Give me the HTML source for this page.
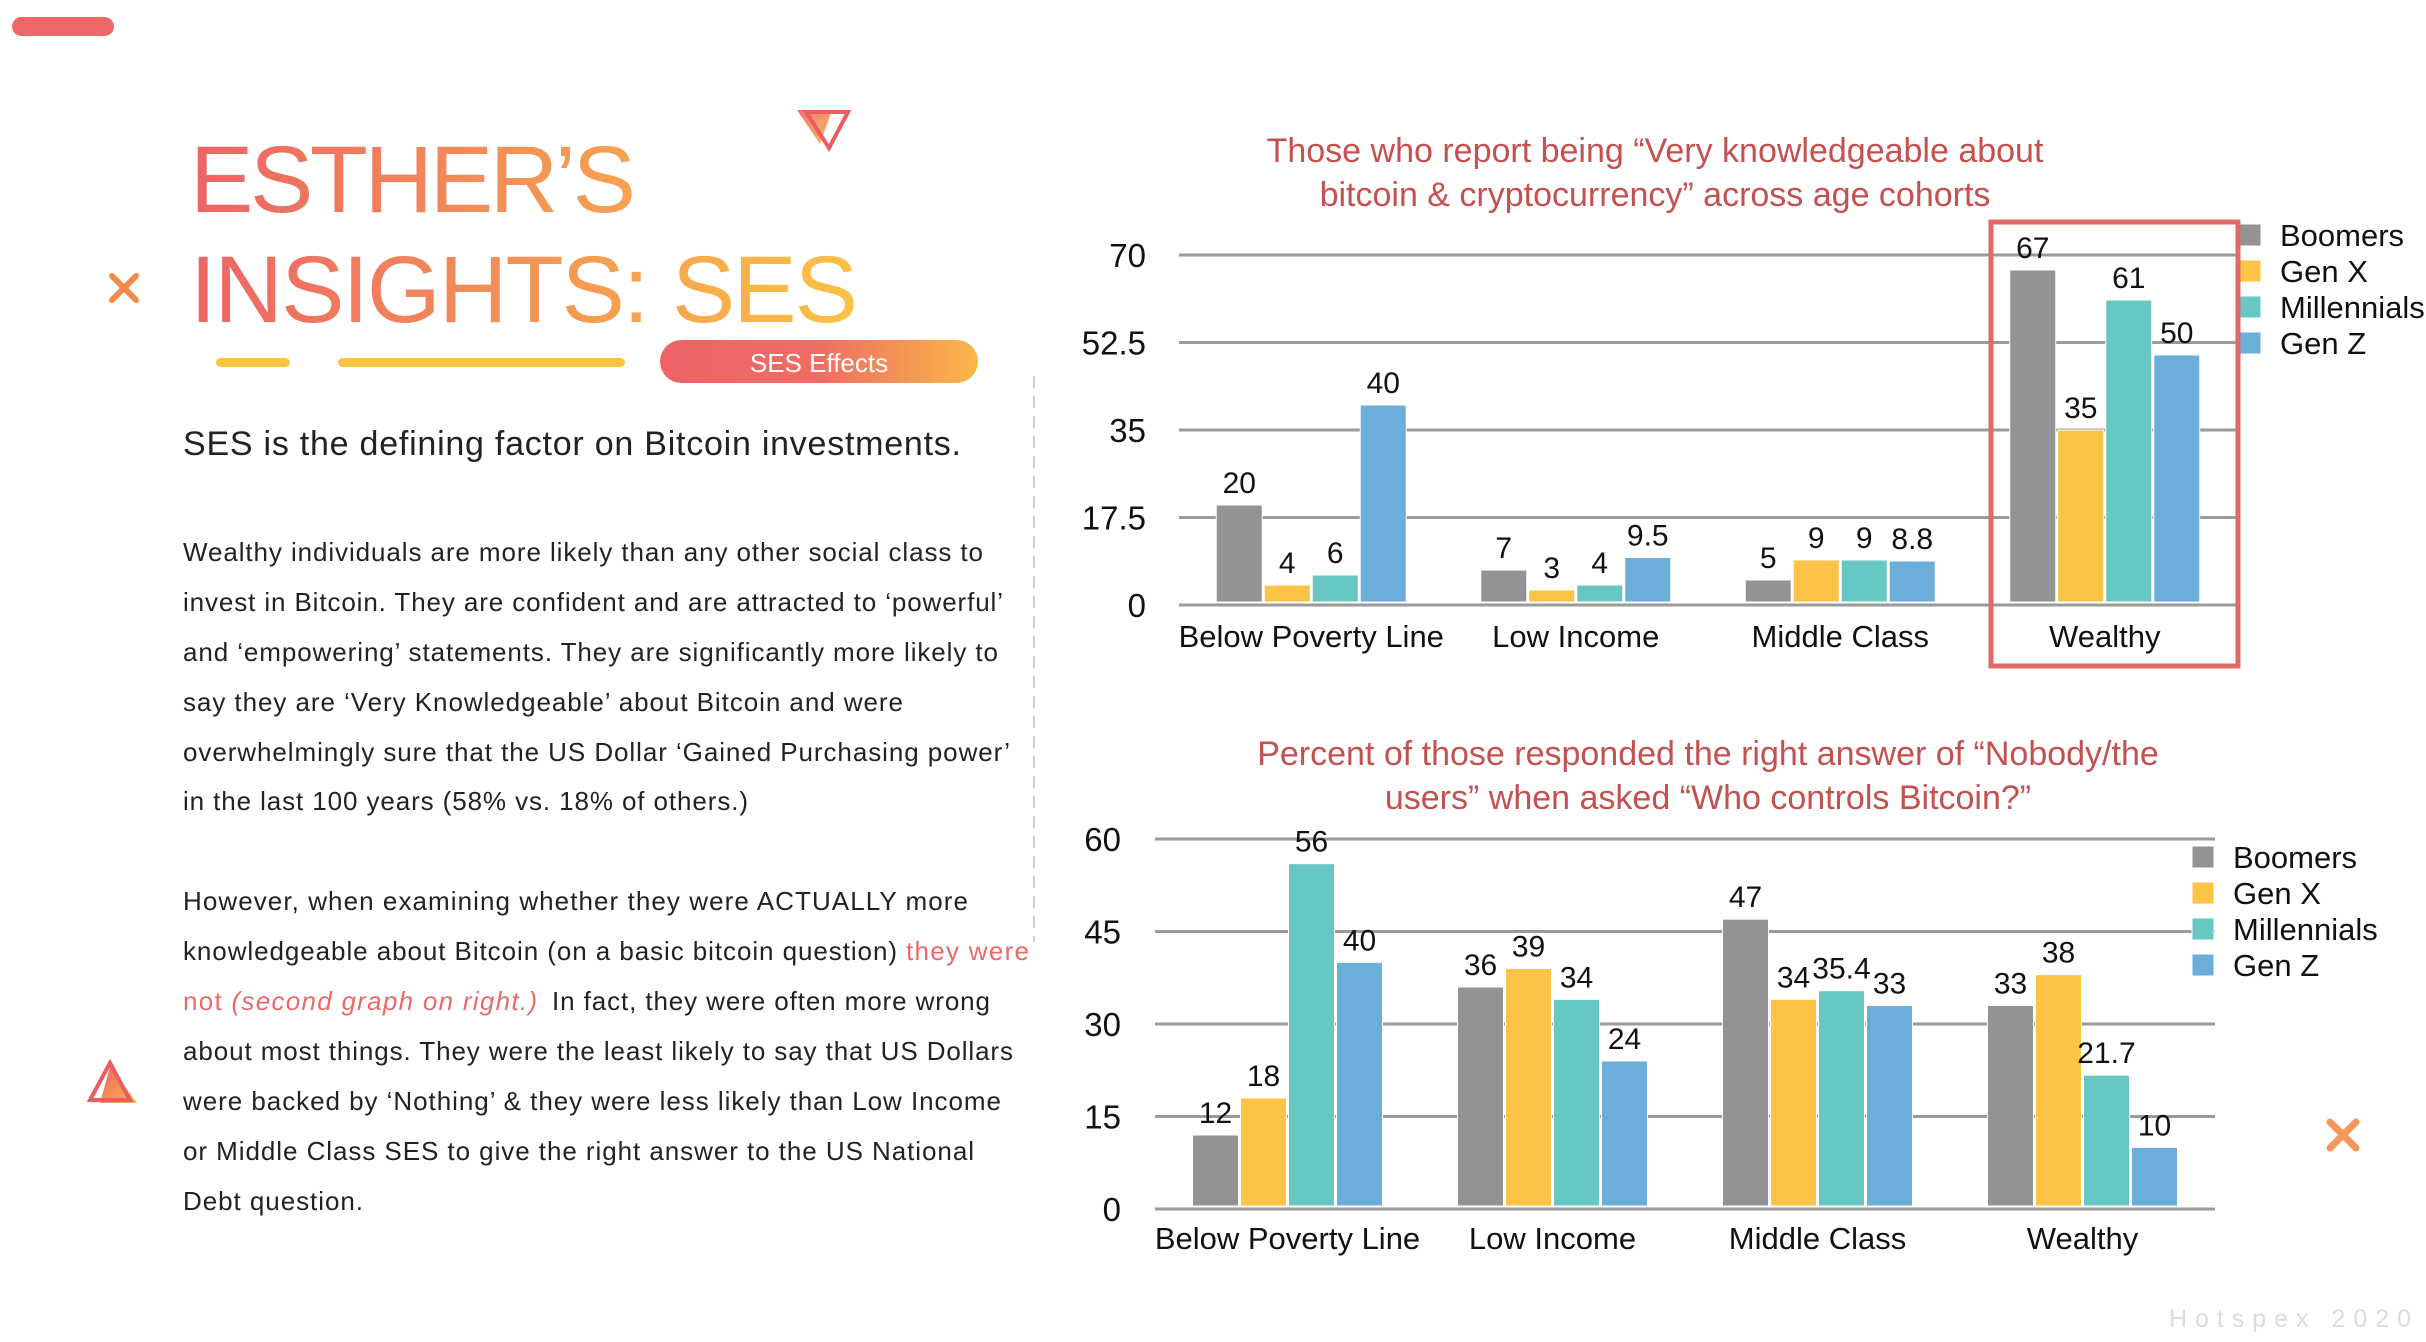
<!DOCTYPE html>
<html><head><meta charset="utf-8"><style>
html,body{margin:0;padding:0;background:#fff;}
svg{display:block;font-family:"Liberation Sans",Arial,sans-serif;}
</style></head><body>
<svg id="page" width="2426" height="1342" viewBox="0 0 2426 1342" xmlns="http://www.w3.org/2000/svg">
<defs>
<linearGradient id="tg" x1="190" y1="0" x2="860" y2="0" gradientUnits="userSpaceOnUse">
<stop offset="0" stop-color="#ec6466"/><stop offset="1" stop-color="#fcc245"/></linearGradient>
<linearGradient id="pg" x1="0" y1="0" x2="1" y2="0">
<stop offset="0" stop-color="#ec6466"/><stop offset="0.5" stop-color="#ee6d64"/><stop offset="1" stop-color="#fbb848"/></linearGradient>
<linearGradient id="trg" x1="0" y1="0" x2="1" y2="1">
<stop offset="0" stop-color="#ec6466"/><stop offset="1" stop-color="#fbb848"/></linearGradient>
</defs>
<rect x="12" y="17" width="102" height="19" rx="9.5" fill="#ee6668"/>
<g>
<polygon points="797,110 832,110 820,144" fill="url(#trg)" opacity="0.9"/>
<polygon points="806,112 848,112 829,148" fill="none" stroke="#ec5c60" stroke-width="4"/>
</g>
<g stroke="#f28a4c" stroke-width="6" stroke-linecap="round">
<line x1="112" y1="276" x2="136" y2="300"/><line x1="136" y1="276" x2="112" y2="300"/></g>
<text x="190" y="212" font-size="95" fill="url(#tg)" textLength="446">ESTHER’S</text>
<text x="190" y="322" font-size="95" fill="url(#tg)" textLength="668">INSIGHTS: SES</text>
<rect x="216" y="358" width="74" height="9" rx="4.5" fill="#fcc443"/>
<rect x="338" y="358" width="287" height="9" rx="4.5" fill="#fcc443"/>
<g>
<rect x="660" y="340" width="318" height="43" rx="21.5" fill="url(#pg)"/>
<text x="819" y="372" font-size="26" fill="#fff" text-anchor="middle">SES Effects</text></g>
<text x="183" y="455" font-size="34" fill="#222" textLength="778">SES is the defining factor on Bitcoin investments.</text>
<g font-size="26" fill="#222">
<text x="183" y="561" textLength="800">Wealthy individuals are more likely than any other social class to</text>
<text x="183" y="611" textLength="820">invest in Bitcoin. They are confident and are attracted to ‘powerful’</text>
<text x="183" y="661" textLength="815">and ‘empowering’ statements. They are significantly more likely to</text>
<text x="183" y="711" textLength="720">say they are ‘Very Knowledgeable’ about Bitcoin and were</text>
<text x="183" y="761" textLength="827">overwhelmingly sure that the US Dollar ‘Gained Purchasing power’</text>
<text x="183" y="810" textLength="565">in the last 100 years (58% vs. 18% of others.)</text>
</g>
<g font-size="26" fill="#222">
<text x="183" y="910" textLength="785">However, when examining whether they were ACTUALLY more</text>
<text x="183" y="960" textLength="714">knowledgeable about Bitcoin (on a basic bitcoin question)</text>
<text x="906" y="960" fill="#e96a6a" textLength="123">they were</text>
<text x="183" y="1010" fill="#e96a6a" textLength="354">not <tspan font-style="italic">(second graph on right.)</tspan></text>
<text x="552" y="1010" textLength="438">In fact, they were often more wrong</text>
<text x="183" y="1060" textLength="830">about most things. They were the least likely to say that US Dollars</text>
<text x="183" y="1110" textLength="818">were backed by ‘Nothing’ &amp; they were less likely than Low Income</text>
<text x="183" y="1160" textLength="791">or Middle Class SES to give the right answer to the US National</text>
<text x="183" y="1210" textLength="180">Debt question.</text>
</g>
<line x1="1034" y1="376" x2="1034" y2="942" stroke="#cfcfcf" stroke-width="2" stroke-dasharray="12,8"/>
<g>
<polygon points="110,1067 137,1103 100,1103" fill="url(#trg)"/>
<polygon points="110,1063 130,1100 90,1100" fill="none" stroke="#ec5c60" stroke-width="4"/>
</g>
<g stroke="#f5965a" stroke-width="7" stroke-linecap="round">
<line x1="2330" y1="1122" x2="2356" y2="1148"/><line x1="2356" y1="1122" x2="2330" y2="1148"/></g>
<text x="2169" y="1327" font-size="25" fill="#dcdcdc" textLength="242" lengthAdjust="spacing">Hotspex 2020</text>
<g id="chart1"></g>
<g id="chart2"></g>
</svg>
<script>
const categories = ["Below Poverty Line", "Low Income", "Middle Class", "Wealthy"];
const seriesNames = ["Boomers", "Gen X", "Millennials", "Gen Z"];
const c1Boomers = [20, 7, 5, 67];
const c1GenX = [4, 3, 9, 35];
const c1Millennials = [6, 4, 9, 61];
const c1GenZ = [40, 9.5, 8.8, 50];
const c1Ticks = [0, 17.5, 35, 52.5, 70];
const c1Max = 70;
const c2Boomers = [12, 36, 47, 33];
const c2GenX = [18, 39, 34, 38];
const c2Millennials = [56, 34, 35.4, 21.7];
const c2GenZ = [40, 24, 33, 10];
const c2Ticks = [0, 15, 30, 45, 60];
const c2Max = 60;
const colors = ["#939393", "#fdc344", "#67c8c3", "#6aaed9"];
const NS = "http://www.w3.org/2000/svg";
function mk(parent, tag, attrs, txt) {
  const e = document.createElementNS(NS, tag);
  for (const k in attrs) e.setAttribute(k, attrs[k]);
  if (txt !== undefined) e.textContent = txt;
  parent.appendChild(e);
  return e;
}
function drawChart(g, cfg, series, ticks, maxV, key) {
  const yScale = v => cfg.y0 - v / maxV * (cfg.y0 - cfg.yTop);
  const band = (cfg.x1 - cfg.x0) / categories.length;
  const bw = 46, step = 48;
  ticks.forEach(t => {
    const y = yScale(t);
    const ln = mk(g, "line", {x1: cfg.x0, x2: cfg.x1, y1: y, y2: y, stroke: "#9a9a9a", "stroke-width": 3});
    
    
    const tl = mk(g, "text", {x: cfg.tickX, y: y + 12, "font-size": 33, "text-anchor": "end", fill: "#111"}, String(t));
    
    
  });
  categories.forEach((c, i) => {
    const cx = cfg.x0 + band * (i + 0.5);
    const gx = cx - (step * 4 - 2) / 2;
    series.forEach((s, j) => {
      const v = s[i];
      const x = gx + j * step;
      const y = yScale(v);
      const r = mk(g, "rect", {x: x, y: y, width: bw, height: cfg.y0 - 3 - y, fill: colors[j], stroke: "#ffffff", "stroke-width": 1});
      
      
      const vl = mk(g, "text", {x: x + bw / 2, y: y - 12, "font-size": 30, "text-anchor": "middle", fill: "#111"}, String(v));
      
      
    });
    const cl = mk(g, "text", {x: cx, y: cfg.catY, "font-size": 31, "text-anchor": "middle", fill: "#111"}, c);
    
    
  });
  seriesNames.forEach((n, j) => {
    const y = cfg.legY + j * 36;
    const sw = mk(g, "rect", {x: cfg.legX, y: y - 11, width: 22, height: 22, fill: colors[j], stroke: "#fff", "stroke-width": 1});
    
    
    const lt = mk(g, "text", {x: cfg.legX + 41, y: y + 11, "font-size": 31, fill: "#111"}, n);
    
    
  });
  cfg.title.forEach((t, k) => {
    const tt = mk(g, "text", {x: cfg.titleX, y: cfg.titleY + k * 44, "font-size": 34, "text-anchor": "middle", fill: "#c4504f"}, t);
    
    
  });
}
const g1 = document.getElementById("chart1");
drawChart(g1, {x0: 1179, x1: 2237, y0: 605, yTop: 255, tickX: 1146, catY: 647, legX: 2239, legY: 235,
  titleX: 1655, titleY: 162, title: ["Those who report being “Very knowledgeable about", "bitcoin & cryptocurrency” across age cohorts"]},
  [c1Boomers, c1GenX, c1Millennials, c1GenZ], c1Ticks, c1Max, "c1");
const hl = mk(g1, "rect", {x: 1991, y: 222, width: 247, height: 444, fill: "none", stroke: "#e06a68", "stroke-width": 5});


const g2 = document.getElementById("chart2");
drawChart(g2, {x0: 1155, x1: 2215, y0: 1209, yTop: 839, tickX: 1121, catY: 1249, legX: 2192, legY: 857,
  titleX: 1708, titleY: 765, title: ["Percent of those responded the right answer of “Nobody/the", "users” when asked “Who controls Bitcoin?”"]},
  [c2Boomers, c2GenX, c2Millennials, c2GenZ], c2Ticks, c2Max, "c2");
</script>
</body></html>
